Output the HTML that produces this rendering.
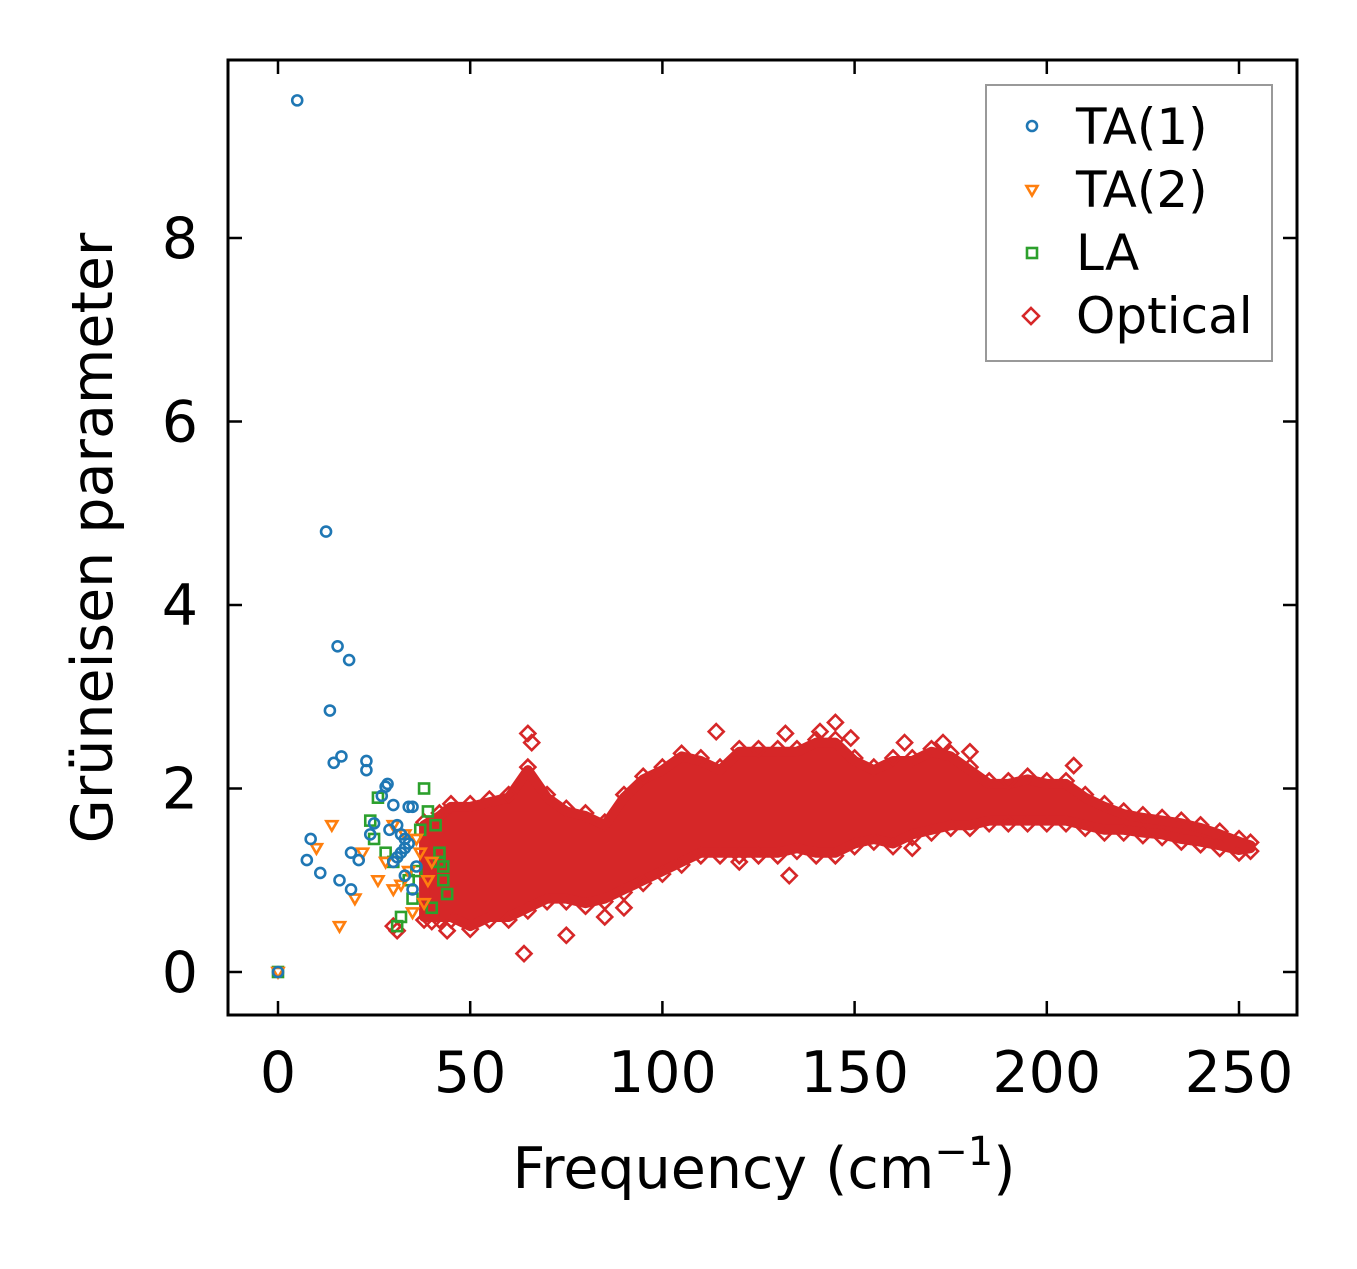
<!DOCTYPE html>
<html><head><meta charset="utf-8"><style>
html,body{margin:0;padding:0;background:#fff;}
svg text{font-family:"DejaVu Sans","Liberation Sans",sans-serif;}
</style></head><body>
<svg id="chart" width="1357" height="1264" xmlns="http://www.w3.org/2000/svg">
<rect width="1357" height="1264" fill="#fff"/>
<g id="plot"></g>
<g id="axes"></g>
</svg>
<script>
// ---- data ----
const xTicks = [0, 50, 100, 150, 200, 250];
const yTicks = [0, 2, 4, 6, 8];
// Optical band: frequency, lower and upper Grüneisen bounds of the dense cloud
const bandFreq = [38,42,45,50,55,60,65,70,75,80,85,90,95,100,105,110,115,120,125,130,135,140,145,150,155,160,165,170,175,180,185,190,195,200,205,210,215,220,225,230,235,240,245,250,253];
const bandLo   = [0.6,0.6,0.6,0.5,0.6,0.6,0.7,0.8,0.8,0.75,0.8,0.9,1.0,1.1,1.2,1.3,1.3,1.3,1.3,1.3,1.35,1.3,1.3,1.4,1.45,1.4,1.5,1.55,1.6,1.6,1.65,1.65,1.65,1.65,1.65,1.6,1.55,1.55,1.52,1.5,1.45,1.42,1.38,1.33,1.35];
const bandHi   = [1.6,1.7,1.8,1.8,1.85,1.9,2.2,1.9,1.75,1.7,1.6,1.9,2.1,2.2,2.35,2.3,2.2,2.4,2.4,2.4,2.4,2.5,2.5,2.3,2.2,2.3,2.3,2.4,2.35,2.2,2.05,2.05,2.1,2.05,2.05,1.9,1.8,1.72,1.68,1.65,1.62,1.57,1.5,1.42,1.38];
const optOutX = [65,66,64,75,31,30,114,145,141,132,149,163,173,180,207,133,120,165,85,90,40,44];
const optOutY = [2.6,2.5,0.2,0.4,0.45,0.5,2.62,2.72,2.62,2.6,2.55,2.5,2.5,2.4,2.25,1.05,1.2,1.35,0.6,0.7,0.55,0.45];
const ta1X = [5,12.5,15.5,18.5,13.5,14.5,16.5,23,23,8.5,7.5,11,16,19,19,21,24,25,27,28,28.5,29,30,31,32,33,34,35,34,33,32,31,30,36,35,33,0];
const ta1Y = [9.5,4.8,3.55,3.4,2.85,2.28,2.35,2.3,2.2,1.45,1.22,1.08,1.0,0.9,1.3,1.22,1.5,1.62,1.92,2.02,2.05,1.55,1.82,1.6,1.5,1.45,1.8,1.8,1.4,1.35,1.3,1.25,1.2,1.15,0.9,1.05,0];
const ta2X = [10,14,16,20,22,26,28,30,32,34,36,37,38,39,40,30,35,33,0];
const ta2Y = [1.35,1.6,0.5,0.8,1.3,1.0,1.2,1.6,0.95,1.1,1.45,1.3,0.75,1.0,1.2,0.9,0.65,1.5,0];
const laX = [26,28,30,34,36,38,39,41,42,43,44,31,32,35,37,40,42,43,24,25,0];
const laY = [1.9,1.3,1.2,1.0,1.1,2.0,1.75,1.6,1.2,1.0,0.85,0.5,0.6,0.8,1.55,0.7,1.3,1.15,1.65,1.45,0];
// ---- scales ----
const X0=228,X1=1297,Y0=60,Y1=1015;
function sx(v){return 278+v*(1239-278)/250;}
function sy(v){return 972-v*(972-238)/8;}
const NS="http://www.w3.org/2000/svg";
const plot=document.getElementById('plot'), axes=document.getElementById('axes');
function mk(tag,attrs,parent){const e=document.createElementNS(NS,tag);for(const k in attrs)e.setAttribute(k,attrs[k]);parent.appendChild(e);return e;}
const RED="#d62728",BLUE="#1f77b4",ORANGE="#ff7f0e",GREEN="#2ca02c";
function diamond(x,y,p){const s=7.5;const e=mk('polygon',{points:`${x},${y-s} ${x+s},${y} ${x},${y+s} ${x-s},${y}`,fill:'none',stroke:RED,'stroke-width':2.6},p);

return e;}
let pts=[];
for(let i=0;i<bandFreq.length;i++)pts.push(sx(bandFreq[i])+','+sy(bandHi[i]));
for(let i=bandFreq.length-1;i>=0;i--)pts.push(sx(bandFreq[i])+','+sy(bandLo[i]));
const band=mk('polygon',{points:pts.join(' '),fill:RED,stroke:RED,'stroke-width':10,'stroke-linejoin':'round'},plot);


for(let i=0;i<bandFreq.length;i++){diamond(sx(bandFreq[i]),sy(bandHi[i])-3,plot);diamond(sx(bandFreq[i]),sy(bandLo[i])+3,plot);}
for(let i=0;i<optOutX.length;i++)diamond(sx(optOutX[i]),sy(optOutY[i]),plot);
for(let i=0;i<laX.length;i++){const e=mk('rect',{x:sx(laX[i])-5,y:sy(laY[i])-5,width:10,height:10,fill:'none',stroke:GREEN,'stroke-width':2.6},plot);

}
for(let i=0;i<ta2X.length;i++){const x=sx(ta2X[i]),y=sy(ta2Y[i]);const e=mk('polygon',{points:`${x-5.5},${y-4} ${x+5.5},${y-4} ${x},${y+5.5}`,fill:'none',stroke:ORANGE,'stroke-width':2.6},plot);

}
for(let i=0;i<ta1X.length;i++){const e=mk('circle',{cx:sx(ta1X[i]),cy:sy(ta1Y[i]),r:5,fill:'none',stroke:BLUE,'stroke-width':2.6},plot);

}
const fr=mk('rect',{x:X0,y:Y0,width:X1-X0,height:Y1-Y0,fill:'none',stroke:'#000','stroke-width':3},axes);


xTicks.forEach(t=>{const x=sx(t);
mk('line',{x1:x,y1:Y1,x2:x,y2:Y1-14,stroke:'#000','stroke-width':2.5},axes);
mk('line',{x1:x,y1:Y0,x2:x,y2:Y0+14,stroke:'#000','stroke-width':2.5},axes);
const tx=mk('text',{x:x,y:1092,'font-size':57,'text-anchor':'middle'},axes);tx.textContent=t;

});
yTicks.forEach(t=>{const y=sy(t);
mk('line',{x1:X0,y1:y,x2:X0+14,y2:y,stroke:'#000','stroke-width':2.5},axes);
mk('line',{x1:X1,y1:y,x2:X1-14,y2:y,stroke:'#000','stroke-width':2.5},axes);
const tx=mk('text',{x:198,y:y+20,'font-size':57,'text-anchor':'end'},axes);tx.textContent=t;

});
</script>
<svg style="position:absolute;left:0;top:0" width="1357" height="1264" xmlns="http://www.w3.org/2000/svg">
<text x="764" y="1188" font-size="57" text-anchor="middle">Frequency (cm<tspan dy="-23" font-size="40">−1</tspan><tspan dy="23">)</tspan></text>
<text transform="translate(112,538) rotate(-90)" font-size="57" text-anchor="middle">Grüneisen parameter</text>
<g>
<rect x="986" y="85" width="286" height="276" fill="#fff" stroke="#999" stroke-width="2"/>
<circle cx="1032" cy="126" r="5" fill="none" stroke="#1f77b4" stroke-width="2.6"/>
<text x="1076" y="144" font-size="50">TA(1)</text>
<polygon points="1026.5,186 1037.5,186 1032,195.5" fill="none" stroke="#ff7f0e" stroke-width="2.6"/>
<text x="1076" y="207" font-size="50">TA(2)</text>
<rect x="1027" y="248" width="10" height="10" fill="none" stroke="#2ca02c" stroke-width="2.6"/>
<text x="1076" y="270" font-size="50">LA</text>
<polygon points="1031,308 1039,316 1031,324 1023,316" fill="none" stroke="#d62728" stroke-width="2.6"/>
<text x="1076" y="333" font-size="50">Optical</text>
</g>
</svg>
</body></html>
